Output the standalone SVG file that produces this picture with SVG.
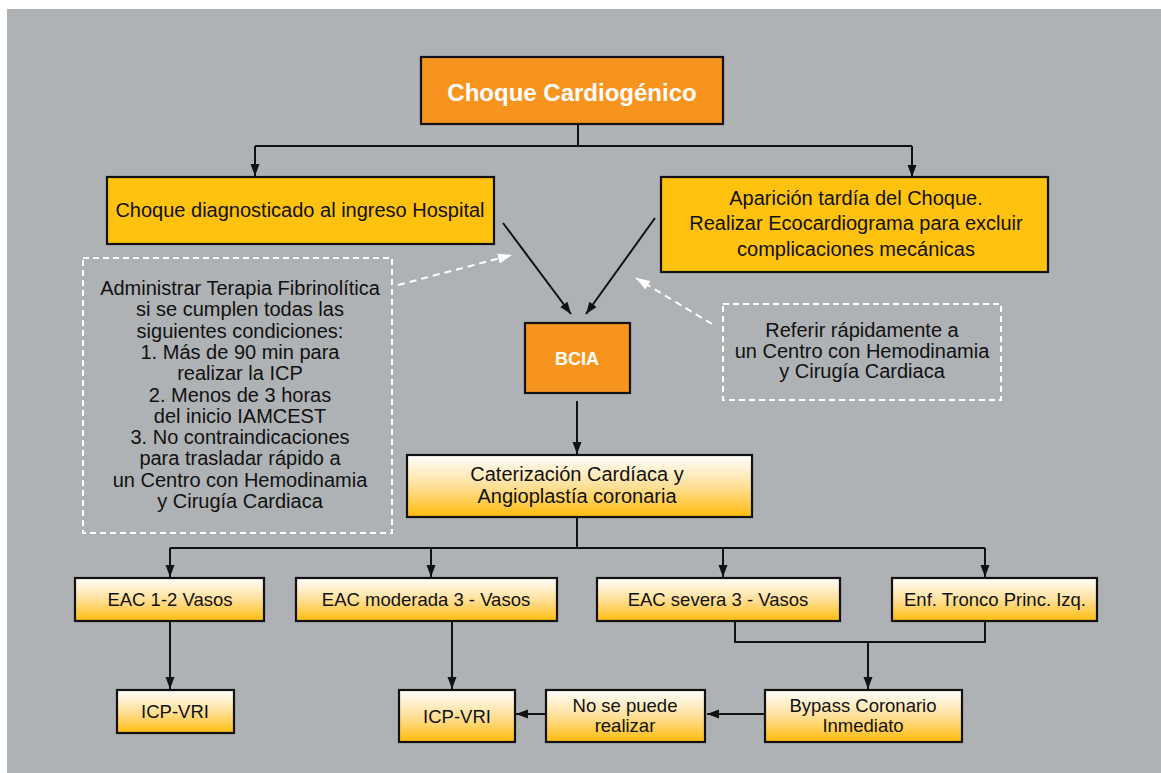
<svg xmlns="http://www.w3.org/2000/svg" width="1161" height="773" viewBox="0 0 1161 773">
<style>
text{font-family:"Liberation Sans",Arial,sans-serif;fill:#111;text-anchor:middle}
.t20{font-size:20px}
.t18{font-size:18.5px}
.bold{font-weight:bold;fill:#fff}
.orange{fill:#F7941D;stroke:#111;stroke-width:2.2}
.yellow{fill:#FFC20E;stroke:#111;stroke-width:2.2}
.grad{fill:url(#g);stroke:#111;stroke-width:2.2}
.dash{fill:none;stroke:#fff;stroke-width:2;stroke-dasharray:6 4}
.ln{fill:none;stroke:#111;stroke-width:2}
.la{fill:none;stroke:#111;stroke-width:2;marker-end:url(#ah)}
.da{fill:none;stroke:#fff;stroke-width:2;stroke-dasharray:7 5;marker-end:url(#wh)}
</style>
<defs>
<linearGradient id="g" x1="0" y1="0" x2="0" y2="1">
<stop offset="0" stop-color="#FFFFFF"/>
<stop offset="0.5" stop-color="#FFE09A"/>
<stop offset="1" stop-color="#FFBC0C"/>
</linearGradient>
<marker id="ah" markerUnits="userSpaceOnUse" markerWidth="12" markerHeight="12" viewBox="0 0 12 12" refX="12" refY="6" orient="auto">
<path d="M0,1.5 L12,6 L0,10.5 Z" fill="#111"/>
</marker>
<marker id="wh" markerUnits="userSpaceOnUse" markerWidth="14" markerHeight="12" viewBox="0 0 14 12" refX="14" refY="6" orient="auto">
<path d="M0,1 L14,6 L0,11 Z" fill="#fff"/>
</marker>
</defs>
<rect x="7" y="9" width="1154" height="764" fill="#AFB2B4"/>

<g id="connectors">
<path class="ln" d="M578,124 V146 M255,146 H912"/>
<path class="la" d="M255,146 V176"/>
<path class="la" d="M912,146 V177"/>
<path class="la" d="M503,223 L571,314"/>
<path class="la" d="M655,218 L586,314"/>
<path class="da" d="M398,285 L512,255"/>
<path class="da" d="M712,324 L636,278"/>
<path class="la" d="M577,401 V454"/>
<path class="ln" d="M577,517 V548 M170,548 H985"/>
<path class="la" d="M170,548 V577"/>
<path class="la" d="M431,548 V577"/>
<path class="la" d="M723,548 V577"/>
<path class="la" d="M985,548 V577"/>
<path class="la" d="M170,621 V689"/>
<path class="la" d="M452,621 V689"/>
<path class="ln" d="M735,621 V642 H985 V621"/>
<path class="la" d="M868,642 V689"/>
<path class="la" d="M765,714 H707"/>
<path class="la" d="M546,714 H516"/>
</g>

<g id="n-choque">
<rect class="orange" x="421" y="57" width="302" height="67"/>
<text class="bold" x="572" y="101" style="font-size:24px">Choque Cardiogénico</text>
</g>
<g id="n-hospital">
<rect class="yellow" x="107" y="177" width="387" height="67"/>
<text class="t20" x="300" y="217">Choque diagnosticado al ingreso Hospital</text>
</g>
<g id="n-tardia">
<rect class="yellow" x="661" y="177" width="387" height="95"/>
<text class="t20" x="856" y="205">Aparición tardía del Choque.</text>
<text class="t20" x="856" y="230">Realizar Ecocardiograma para excluir</text>
<text class="t20" x="856" y="256">complicaciones mecánicas</text>
</g>
<g id="n-fibrinolitica">
<rect class="dash" x="83" y="258" width="309" height="275"/>
<text class="t20" x="240" y="295">Administrar Terapia Fibrinolítica</text>
<text class="t20" x="240" y="316.3">si se cumplen todas las</text>
<text class="t20" x="240" y="337.6">siguientes condiciones:</text>
<text class="t20" x="240" y="358.9">1.  Más de 90 min para</text>
<text class="t20" x="240" y="380.2">realizar la ICP</text>
<text class="t20" x="240" y="401.5">2. Menos de 3 horas</text>
<text class="t20" x="240" y="422.8">del inicio IAMCEST</text>
<text class="t20" x="240" y="444.1">3. No contraindicaciones</text>
<text class="t20" x="240" y="465.4">para trasladar rápido a</text>
<text class="t20" x="240" y="486.7">un Centro con Hemodinamia</text>
<text class="t20" x="240" y="508">y Cirugía Cardiaca</text>
</g>
<g id="n-referir">
<rect class="dash" x="723" y="304" width="278" height="96"/>
<text class="t20" x="862" y="337">Referir rápidamente a</text>
<text class="t20" x="862" y="358">un Centro con Hemodinamia</text>
<text class="t20" x="862" y="378">y Cirugía Cardiaca</text>
</g>
<g id="n-bcia">
<rect class="orange" x="525" y="323" width="105" height="70"/>
<text class="bold" x="577" y="365" style="font-size:18px">BCIA</text>
</g>
<g id="n-cateterizacion">
<rect class="grad" x="407" y="455" width="345" height="62"/>
<text class="t20" x="577" y="481">Caterización Cardíaca y</text>
<text class="t20" x="577" y="503">Angioplastía coronaria</text>
</g>
<g id="n-eac12">
<rect class="grad" x="75" y="578" width="189" height="43"/>
<text class="t18" x="170" y="606">EAC 1-2 Vasos</text>
</g>
<g id="n-eacmod">
<rect class="grad" x="296" y="578" width="261" height="43"/>
<text class="t18" x="426" y="606">EAC moderada 3 - Vasos</text>
</g>
<g id="n-eacsev">
<rect class="grad" x="597" y="578" width="243" height="43"/>
<text class="t18" x="718" y="606">EAC severa 3 - Vasos</text>
</g>
<g id="n-tronco">
<rect class="grad" x="892" y="578" width="205" height="43"/>
<text class="t18" x="995" y="606">Enf. Tronco Princ. Izq.</text>
</g>
<g id="n-icp1">
<rect class="grad" x="117" y="690" width="117" height="43"/>
<text class="t18" x="175" y="718">ICP-VRI</text>
</g>
<g id="n-icp2">
<rect class="grad" x="399" y="690" width="116" height="52"/>
<text class="t18" x="457" y="723">ICP-VRI</text>
</g>
<g id="n-nose">
<rect class="grad" x="546" y="690" width="159" height="52"/>
<text class="t18" x="625" y="712">No se puede</text>
<text class="t18" x="625" y="732">realizar</text>
</g>
<g id="n-bypass">
<rect class="grad" x="765" y="690" width="197" height="52"/>
<text class="t18" x="863" y="712">Bypass Coronario</text>
<text class="t18" x="863" y="732">Inmediato</text>
</g>
</svg>
